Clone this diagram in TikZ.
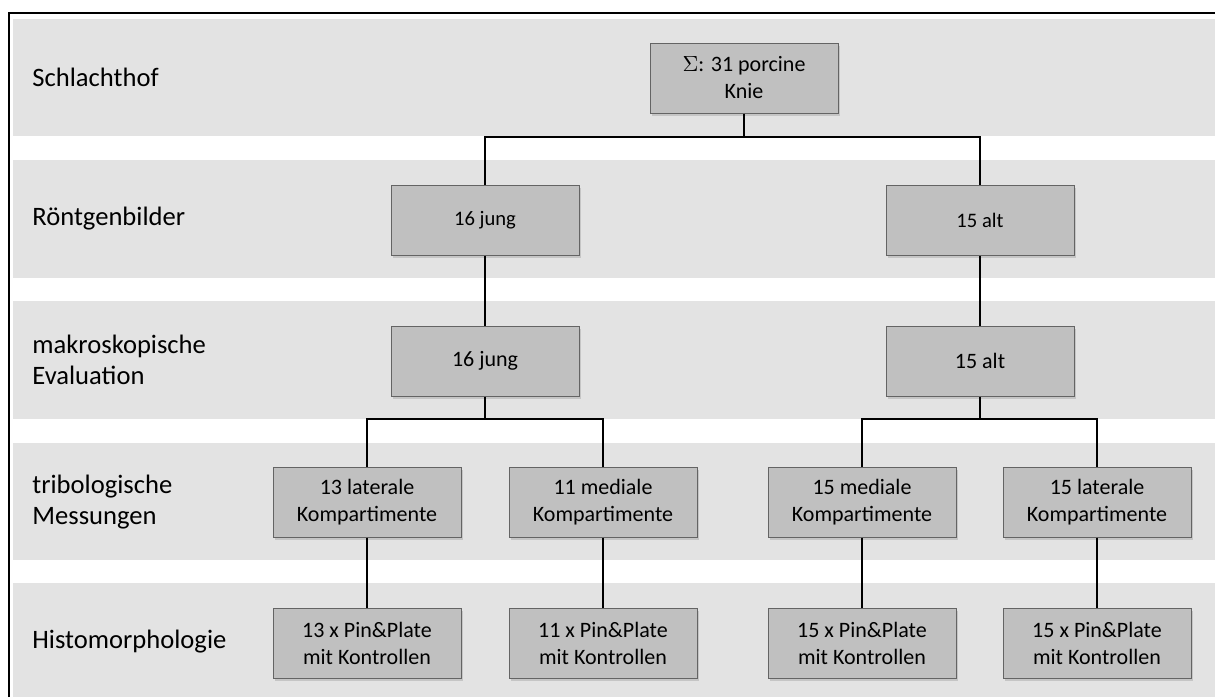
\documentclass[tikz,border=0pt]{standalone}
\usepackage{fontspec}
\setmainfont{Carlito}
\usetikzlibrary{shadows}
\definecolor{bandgrey}{RGB}{227,227,227}
\definecolor{boxgrey}{RGB}{192,192,192}
\definecolor{rimgrey}{RGB}{100,100,100}
\begin{document}
\begin{tikzpicture}[x=0.5pt,y=-0.5pt,
  box/.style={draw=rimgrey,fill=boxgrey,line width=0.5pt,minimum width=94pt,minimum height=35pt,
    align=center,font=\fontsize{11}{13.5}\selectfont,
    drop shadow={opacity=0.3,shadow xshift=1pt,shadow yshift=-1.5pt}},
  small/.style={font=\fontsize{10.3}{12.5}\selectfont},
  lab/.style={anchor=west,align=left,inner sep=0pt,font=\fontsize{13.3}{15.5}\selectfont},
  link/.style={line width=0.7pt}]
\useasboundingbox (0,0) rectangle (1215,697);
% bands
\foreach \t/\b in {19/136,160/278,301/419,443/560,583/697}
	\fill[bandgrey] (13,\t) rectangle (1215,\b);
\draw[line width=1.1pt] (9,697)--(9,13)--(1215,13);

\node[lab] (schlacht) at (32,77) {Schlachthof};
\node[lab] (roentgen) at (32,219) {Röntgenbilder};
\node[lab] (makro) at (32,360) {makroskopische\\Evaluation};
\node[lab] (tribo) at (32,502) {tribologische\\Messungen};
\node[lab] (histo) at (32,642) {Histomorphologie};

\node[box] (knie) at (744,78) {$\Sigma$: 31 porcine\\Knie};
\node[box,small] (jungA) at (485,220) {16 jung};
\node[box,small] (altA) at (980,220) {15 alt};
\node[box] (jungB) at (485,361) {16 jung};
\node[box] (altB) at (980,361) {15 alt};
\node[box] (latJ) at (367,502) {13 laterale\\Kompartimente};
\node[box] (medJ) at (603,502) {11 mediale\\Kompartimente};
\node[box] (medA) at (862,502) {15 mediale\\Kompartimente};
\node[box] (latA) at (1097,502) {15 laterale\\Kompartimente};
\node[box] (pinLJ) at (367,643) {13 x Pin\&Plate\\mit Kontrollen};
\node[box] (pinMJ) at (603,643) {11 x Pin\&Plate\\mit Kontrollen};
\node[box] (pinMA) at (862,643) {15 x Pin\&Plate\\mit Kontrollen};
\node[box] (pinLA) at (1097,643) {15 x Pin\&Plate\\mit Kontrollen};

\coordinate (k) at (744,137);
\coordinate (j) at (485,419);
\coordinate (a) at (980,419);
\draw[link] (knie)--(k) -| (jungA);
\draw[link] (k) -| (altA);
\draw[link] (jungA)--(jungB);
\draw[link] (altA)--(altB);
\draw[link] (jungB)--(j) -| (latJ);
\draw[link] (j) -| (medJ);
\draw[link] (altB)--(a) -| (medA);
\draw[link] (a) -| (latA);
\draw[link] (latJ)--(pinLJ);
\draw[link] (medJ)--(pinMJ);
\draw[link] (medA)--(pinMA);
\draw[link] (latA)--(pinLA);

\end{tikzpicture}
\end{document}
